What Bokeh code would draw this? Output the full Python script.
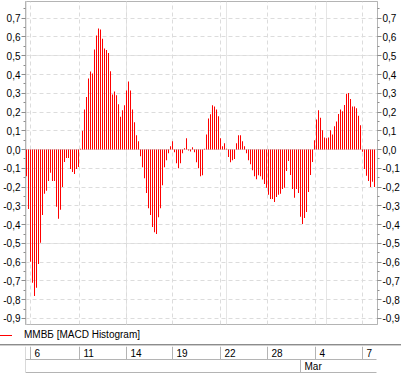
from bokeh.plotting import figure
from bokeh.models import (Range1d, LinearAxis, FixedTicker, Grid, CustomJSTickFormatter,
                          ColumnDataSource, Div)
from bokeh.layouts import column
from bokeh.embed import file_html
from bokeh.resources import INLINE
from bokeh.core.properties import value

# ---- data (MACD histogram, one value per bar) ----
hist = [
    -0.142, -0.316, -0.598, -0.71, -0.78, -0.736, -0.61, -0.497, -0.348, -0.236,
    -0.22, -0.167, -0.124, -0.167, -0.167, -0.305, -0.369, -0.32, -0.199, -0.066,
    -0.045, -0.045, -0.103, -0.119, -0.13, -0.103, -0.093, 0.005, 0.10, 0.214,
    0.28, 0.379, 0.416, 0.406, 0.533, 0.608, 0.645, 0.64, 0.59, 0.539,
    0.53, 0.514, 0.418, 0.294, 0.31, 0.289, 0.241, 0.175, 0.209, 0.236,
    0.315, 0.363, 0.315, 0.214, 0.145, 0.076, 0.044, -0.036, -0.094, -0.153,
    -0.232, -0.312, -0.349, -0.413, -0.44, -0.45, -0.36, -0.312, -0.19, -0.094,
    -0.057, -0.02, 0.018, 0.044, -0.014, -0.073, -0.1, -0.073, -0.02,
    0.007, 0.06, -0.005, -0.01, 0.012, -0.014, -0.068, -0.1, -0.142, -0.137,
    0.004, 0.081, 0.166, 0.188, 0.236, 0.23, 0.214, 0.177, 0.06, 0.018,
    0.034, 0.004, -0.04, -0.068, -0.057, -0.05, 0.034, 0.076, 0.076, 0.044,
    0.018, -0.02, -0.057, -0.078, -0.11, -0.142, -0.158, -0.137, -0.142, -0.16,
    -0.184,
    -0.204, -0.241, -0.263, -0.263, -0.279, -0.252, -0.241, -0.236, -0.21, -0.204,
    -0.114, -0.061, -0.135, -0.21, -0.257, -0.21, -0.231, -0.358, -0.396, -0.364,
    -0.332, -0.226, -0.135, -0.066, 0.05, 0.16, 0.209, 0.17, 0.103, 0.065,
    0.06, 0.065, 0.103, 0.081, 0.124, 0.15, 0.19, 0.214, 0.204, 0.238,
    0.297, 0.302, 0.27, 0.23, 0.23, 0.22, 0.18, 0.129, -0.012, -0.103,
    -0.14, -0.167, -0.199, -0.172, -0.199,
]
bar_idx = list(range(len(hist)))

day_tick_pos = [2, 26.5, 50, 73, 97, 120.5, 144.5, 168]
day_tick_labels = ["6", "11", "14", "19", "22", "28", "4", "7"]
month_pos = [137]
month_labels = ["Mar"]

y_ticks = [-0.9, -0.8, -0.7, -0.6, -0.5, -0.4, -0.3, -0.2, -0.1, 0.0,
           0.1, 0.2, 0.3, 0.4, 0.5, 0.6, 0.7]
y_minor = [-0.9, -0.85, -0.8, -0.75, -0.7, -0.65, -0.6, -0.55, -0.5, -0.45, -0.4,
           -0.35, -0.3, -0.25, -0.2, -0.15, -0.1, -0.05, 0.0, 0.05, 0.1, 0.15,
           0.2, 0.25, 0.3, 0.35, 0.4, 0.45, 0.5, 0.55, 0.6, 0.65, 0.7, 0.75]

series_label = "ММВБ [MACD Histogram]"

# ---- layout constants ----
FL = 22          # left border of frames
FR = 27          # right border of frames
FW = 352         # frame width
PX = 2.0         # px per bar
X0 = -0.5
FONT = "Liberation Sans"
RED = "#ff0000"
GRID = "#dcdcdc"
EDGE = "#b4b4b4"

xr = Range1d(X0, X0 + FW / PX)

p = figure(frame_width=FW, frame_height=323, title=None,
           x_range=xr, y_range=Range1d(-0.932, 0.789),
           output_backend="svg", toolbar_location=None,
           x_axis_location=None, y_axis_location=None,
           min_border_left=FL, min_border_right=FR,
           min_border_top=1, min_border_bottom=1)
p.outline_line_color = EDGE
p.background_fill_color = "white"

fmt = CustomJSTickFormatter(code="""
const s = Math.abs(tick) < 1e-9 ? '0.0' : tick.toFixed(1);
return s.replace('.', ',');
""")

for side in ("left", "right"):
    ax = LinearAxis(ticker=FixedTicker(ticks=y_ticks, minor_ticks=y_minor),
                    formatter=fmt,
                    major_label_text_font_size="10px",
                    major_label_text_font=FONT,
                    major_label_text_color="black",
                    major_tick_out=4, major_tick_in=0,
                    minor_tick_out=2, minor_tick_in=0,
                    axis_line_color=EDGE,
                    major_tick_line_color="#8c8c8c",
                    minor_tick_line_color="#8c8c8c",
                    major_label_standoff=1)
    p.add_layout(ax, side)

p.add_layout(Grid(dimension=1, ticker=FixedTicker(ticks=y_ticks),
                  grid_line_color=GRID, grid_line_dash="4 3"))
p.add_layout(Grid(dimension=0, ticker=FixedTicker(ticks=day_tick_pos),
                  grid_line_color=GRID, grid_line_dash="4 3"))

src = ColumnDataSource(dict(x=bar_idx, v=hist))
p.vbar(x="x", top="v", bottom=0, width=0.5, source=src,
       fill_color=RED, line_color=None)

# ---- legend row (full width, with double separator line) ----
legend_html = (
    '<div style="position:relative;width:401px;height:21px;'
    'font-family:\'Liberation Sans\';font-size:10px;color:black;">'
    '<div style="position:absolute;left:0px;top:10px;width:12px;height:1px;background:#ff0000;"></div>'
    '<div style="position:absolute;left:24px;top:4px;line-height:12px;white-space:nowrap;">'
    + series_label +
    '</div>'
    '<div style="position:absolute;left:0px;top:19px;width:401px;height:1px;background:#8c8c8c;"></div>'
    '<div style="position:absolute;left:0px;top:20px;width:401px;height:1px;background:#cfcfcf;"></div>'
    '</div>'
)
legend_row = Div(text=legend_html, width=401, height=21,
                 styles={"margin": "0px", "padding": "0px"})

# ---- date panel, shares the bar axis ----
FH = 27
f = figure(frame_width=FW, frame_height=FH, title=None,
           x_range=xr, y_range=Range1d(0, FH),
           output_backend="svg", toolbar_location=None,
           x_axis_location=None, y_axis_location=None,
           min_border_left=FL, min_border_right=FR,
           min_border_top=0, min_border_bottom=0)
f.outline_line_color = None
f.xgrid.visible = False
f.ygrid.visible = False

xa0 = X0
xa1 = X0 + FW / PX - 0.5
n = len(day_tick_pos)
f.segment(x0=[xa0], y0=[1], x1=[xa0], y1=[FH], line_color=EDGE)
f.segment(x0=[xa0], y0=[14], x1=[xa1], y1=[14], line_color=EDGE)
f.segment(x0=[xa0], y0=[1], x1=[xa1], y1=[1], line_color=EDGE)
f.segment(x0=day_tick_pos, y0=[14] * n, x1=day_tick_pos, y1=[FH] * n, line_color=EDGE)
f.text(x=day_tick_pos, y=[20.5] * n, text=day_tick_labels,
       x_offset=4, text_baseline="middle", text_align="left",
       text_font=value(FONT), text_font_size="10px", text_color="black")
m = len(month_pos)
f.segment(x0=month_pos, y0=[1] * m, x1=month_pos, y1=[14] * m, line_color=EDGE)
f.text(x=month_pos, y=[7.5] * m, text=month_labels,
       x_offset=4, text_baseline="middle", text_align="left",
       text_font=value(FONT), text_font_size="10px", text_color="black")

layout = column(p, legend_row, f, spacing=0)
open("out.html", "w").write(file_html(layout, INLINE))
